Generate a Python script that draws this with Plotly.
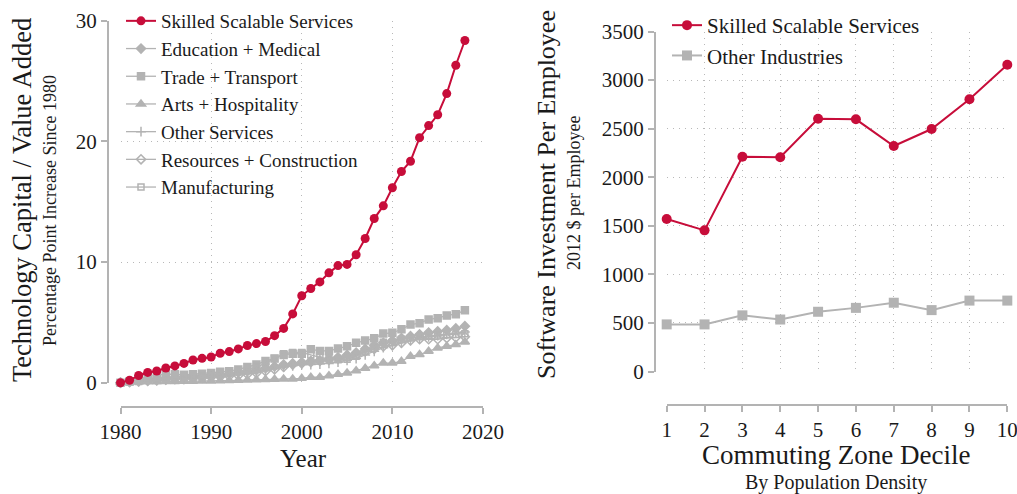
import plotly.graph_objects as go

W, H = 1017, 494
def px(x):
    return x / W
def py(y):
    return 1 - y / H

RED = '#c70d3a'
GRAY = '#b3b3b3'
FONT = 'Liberation Serif'
TXT = '#1a1a1a'

years = list(range(1980, 2019))

skilled = [0, 0.2, 0.6, 0.85, 0.97, 1.22, 1.39, 1.6, 1.88, 2.02,
           2.13, 2.44, 2.58, 2.8, 3.08, 3.24, 3.41, 3.9, 4.5, 5.7,
           7.2, 7.8, 8.35, 9.1, 9.7, 9.8, 10.6, 11.95, 13.6, 14.65,
           16.15, 17.5, 18.35, 20.3, 21.3, 22.2, 23.95, 26.3, 28.35]
education = [0, 0.1, 0.2, 0.3, 0.35, 0.4, 0.45, 0.5, 0.55, 0.6,
             0.65, 0.7, 0.75, 0.85, 0.95, 1.05, 1.2, 1.35, 1.5, 1.6,
             1.7, 1.8, 1.85, 1.95, 2.1, 2.3, 2.5, 2.8, 3.1, 3.3,
             3.5, 3.7, 3.85, 4.0, 4.15, 4.25, 4.35, 4.5, 4.68]
trade = [0, 0.1, 0.3, 0.5, 0.6, 0.7, 0.7, 0.65, 0.7, 0.75,
         0.8, 0.9, 0.95, 1.1, 1.3, 1.5, 1.8, 2.0, 2.3, 2.4,
         2.4, 2.77, 2.63, 2.63, 2.83, 3.02, 3.3, 3.49, 3.68, 4.07,
         4.13, 4.43, 4.82, 4.93, 5.24, 5.35, 5.57, 5.68, 6.0]
arts = [0, 0.02, 0.05, 0.07, 0.08, 0.1, 0.1, 0.12, 0.13, 0.15,
        0.15, 0.17, 0.18, 0.2, 0.22, 0.25, 0.27, 0.28, 0.3, 0.3,
        0.36, 0.45, 0.45, 0.58, 0.7, 0.8, 1.0, 1.19, 1.4, 1.63,
        1.63, 1.77, 2.19, 2.33, 2.6, 2.88, 3.02, 3.16, 3.38]
other_services = [0, 0.05, 0.1, 0.15, 0.2, 0.25, 0.3, 0.35, 0.4, 0.45,
                  0.5, 0.55, 0.6, 0.7, 0.8, 0.9, 1.0, 1.15, 1.3, 1.4,
                  1.5, 1.5, 1.55, 1.6, 1.7, 1.85, 2.0, 2.3, 2.6, 2.9,
                  3.1, 3.3, 3.5, 3.7, 3.8, 3.9, 4.0, 4.1, 4.2]
resources = [0, 0.05, 0.1, 0.15, 0.2, 0.25, 0.3, 0.3, 0.35, 0.4,
             0.45, 0.5, 0.55, 0.6, 0.7, 0.8, 0.95, 1.1, 1.3, 1.5,
             1.6, 1.7, 1.8, 1.9, 2.0, 2.1, 2.3, 2.6, 2.8, 3.0,
             3.1, 3.3, 3.5, 3.6, 3.6, 3.6, 3.7, 3.75, 3.8]
manufacturing = [0, 0.05, 0.1, 0.2, 0.3, 0.35, 0.4, 0.45, 0.5, 0.55,
                 0.6, 0.7, 0.8, 0.9, 1.1, 1.3, 1.6, 2.0, 2.4, 2.5,
                 2.5, 2.3, 2.1, 2.0, 1.9, 1.95, 2.2, 2.6, 3.0, 3.35,
                 3.3, 3.6, 3.7, 3.8, 3.9, 3.95, 4.0, 4.0, 4.05]

deciles = list(range(1, 11))
software_skilled = [1570, 1453, 2211, 2205, 2602, 2596, 2321, 2496, 2802, 3158]
software_other = [485, 485, 578, 535, 615, 655, 708, 632, 730, 730]

left_ticks_x = [1980, 1990, 2000, 2010, 2020]
left_ticks_y = [0, 10, 20, 30]
right_ticks_x = deciles
right_ticks_y = [0, 500, 1000, 1500, 2000, 2500, 3000, 3500]

fig = go.Figure()

gray_series = [
    ('Education + Medical', education, 'diamond', 7),
    ('Trade + Transport', trade, 'square', 7),
    ('Arts + Hospitality', arts, 'triangle-up', 8),
    ('Other Services', other_services, 'cross-thin', 7),
    ('Resources + Construction', resources, 'diamond-open', 7),
    ('Manufacturing', manufacturing, 'square-open', 6),
]
for i, (name, vals, sym, sz) in enumerate(gray_series):
    fig.add_trace(go.Scatter(
        x=years, y=vals, name=name, mode='lines+markers',
        line=dict(color=GRAY, width=1.3),
        marker=dict(symbol=sym, size=sz, color=GRAY, line=dict(color=GRAY, width=1.5)),
        legend='legend', legendrank=2 + i, legendgroup=name,
        cliponaxis=False, xaxis='x', yaxis='y'))
fig.add_trace(go.Scatter(
    x=years, y=skilled, name='Skilled Scalable Services', mode='lines+markers',
    line=dict(color=RED, width=2), marker=dict(symbol='circle', size=9, color=RED),
    legend='legend', legendrank=1, legendgroup='sss',
    cliponaxis=False, xaxis='x', yaxis='y'))

fig.add_trace(go.Scatter(
    x=deciles, y=software_other, name='Other Industries', mode='lines+markers',
    line=dict(color=GRAY, width=2), marker=dict(symbol='square', size=10, color=GRAY),
    legend='legend2', legendrank=2, legendgroup='oi',
    cliponaxis=False, xaxis='x2', yaxis='y2'))
fig.add_trace(go.Scatter(
    x=deciles, y=software_skilled, name='Skilled Scalable Services', mode='lines+markers',
    line=dict(color=RED, width=2), marker=dict(symbol='circle', size=10, color=RED),
    legend='legend2', legendrank=1, legendgroup='sss2',
    cliponaxis=False, xaxis='x2', yaxis='y2'))

axis_common = dict(
    showline=True, linecolor=GRAY, linewidth=2,
    ticks='outside', tickcolor=GRAY, ticklen=6, tickwidth=1.5,
    showgrid=True, gridcolor='#b8b8b8', griddash='1px,5px', gridwidth=1,
    zeroline=False, tickfont=dict(family=FONT, size=21, color=TXT),
    automargin=False, fixedrange=True, ticklabeloverflow='allow',
)

fig.update_layout(
    width=W, height=H, margin=dict(l=0, r=0, t=0, b=0),
    paper_bgcolor='white', plot_bgcolor='white',
    xaxis=dict(domain=[px(120.5), px(483)], range=[1980, 2020], tickvals=left_ticks_x,
               anchor='free', position=py(407), **axis_common),
    yaxis=dict(domain=[py(382.7), py(20.6)], range=[0, 30], tickvals=left_ticks_y,
               anchor='free', position=px(108), **axis_common),
    xaxis2=dict(domain=[px(666.7), px(1007.3)], range=[1, 10], tickvals=right_ticks_x,
                anchor='free', position=py(405), **axis_common),
    yaxis2=dict(domain=[py(371.5), py(31.5)], range=[0, 3500], tickvals=right_ticks_y,
                anchor='free', position=px(655), **axis_common),
    legend=dict(x=px(121), y=py(2), xanchor='left', yanchor='top',
                bgcolor='rgba(0,0,0,0)', font=dict(family=FONT, size=19, color=TXT),
                tracegroupgap=0, itemwidth=30),
    legend2=dict(x=px(667), y=py(5), xanchor='left', yanchor='top',
                 bgcolor='rgba(0,0,0,0)', font=dict(family=FONT, size=21, color=TXT),
                 tracegroupgap=0, itemwidth=30),
    showlegend=True,
)

annos = [
    dict(text='Technology Capital / Value Added', x=px(22), y=py(200), size=26.5, angle=-90),
    dict(text='Percentage Point Increase Since 1980', x=px(50), y=py(211), size=18, angle=-90),
    dict(text='Year', x=px(303), y=py(458), size=25, angle=0),
    dict(text='Software Investment Per Employee', x=px(546), y=py(195), size=26, angle=-90),
    dict(text='2012 $ per Employee', x=px(574), y=py(193), size=18, angle=-90),
    dict(text='Commuting Zone Decile', x=px(836), y=py(455), size=27, angle=0),
    dict(text='By Population Density', x=px(836), y=py(482), size=20, angle=0),
]
for a in annos:
    fig.add_annotation(text=a['text'], x=a['x'], y=a['y'], xref='paper', yref='paper',
                       xanchor='center', yanchor='middle', showarrow=False,
                       textangle=a['angle'], font=dict(family=FONT, size=a['size'], color=TXT))

fig.write_html('out.html', config={'displayModeBar': False})
